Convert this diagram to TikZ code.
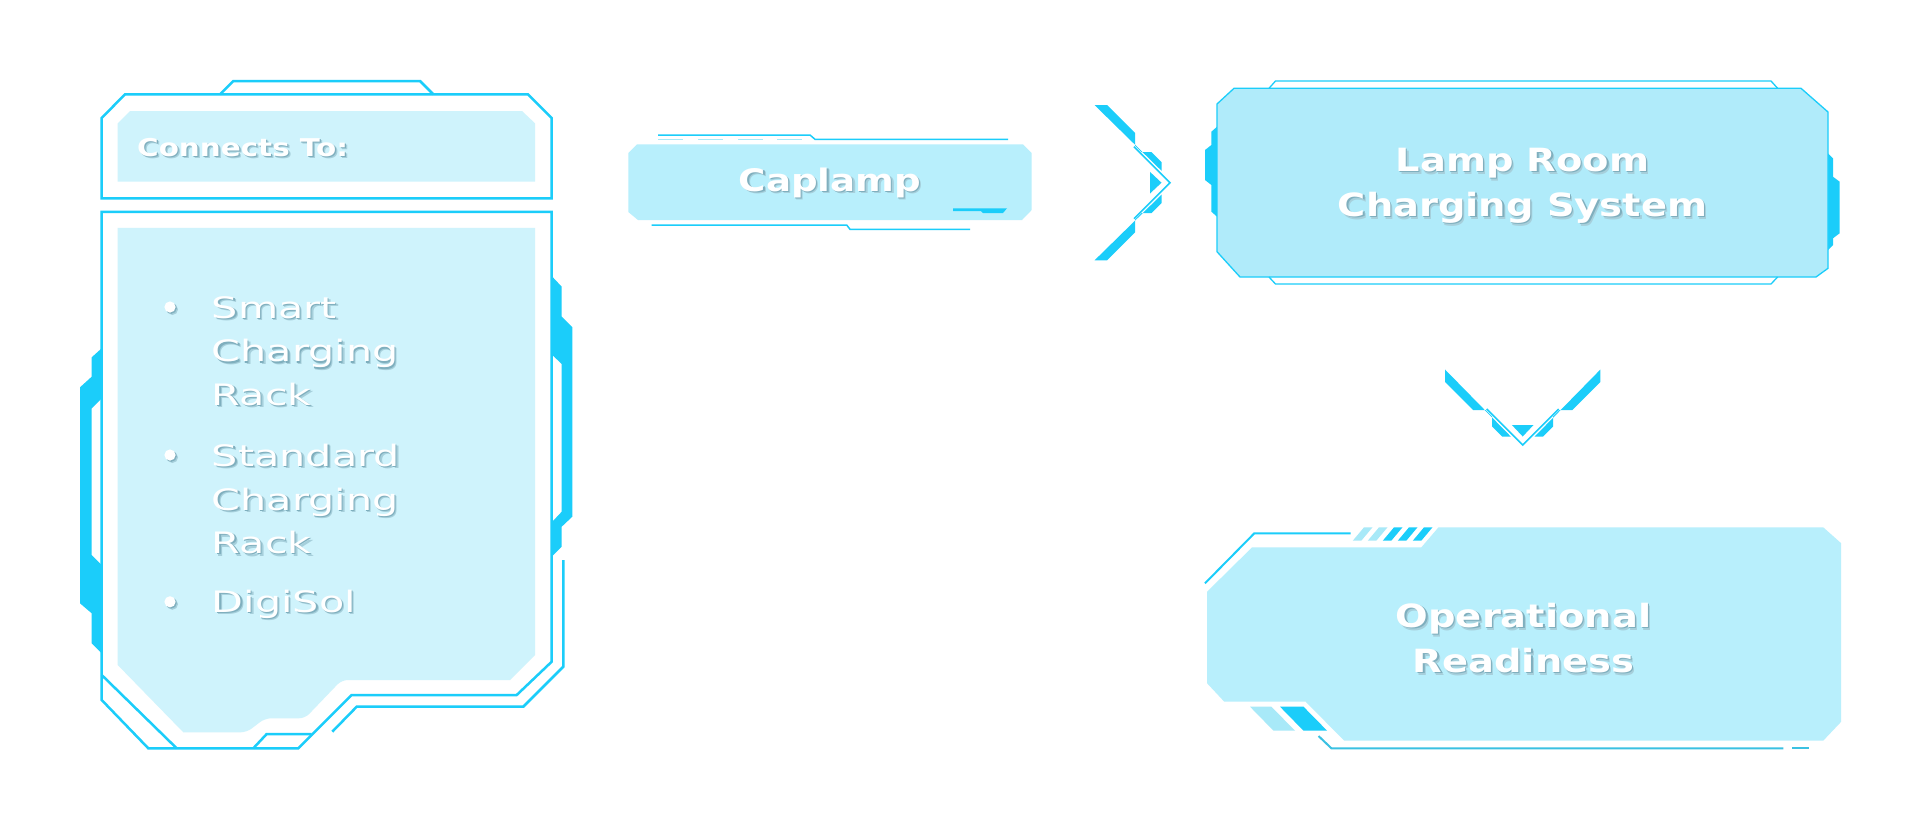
\documentclass[tikz,border=0pt]{standalone}
\usepackage{fontspec}
\newfontfamily\titlefont{DejaVu Sans}[FakeStretch=1.2]
\newfontfamily\itemfont{DejaVu Sans}[FakeStretch=1.4]
\definecolor{cy}{HTML}{1BCDFA}
\definecolor{cyline}{HTML}{3BC1E2}
\definecolor{cylite}{HTML}{A8E9F8}
\definecolor{fillA}{HTML}{CFF3FC}
\definecolor{fillB}{HTML}{B0EBFA}
\definecolor{fillC}{HTML}{B8EFFC}
\definecolor{shA}{HTML}{7FAFBE}
\definecolor{shB}{HTML}{A6CFDB}
\newcommand{\shd}[1]{\makebox[0pt][l]{\kern2.4pt\raisebox{-2.4pt}{\textcolor{shB}{#1}}}\makebox[0pt][l]{\kern1.2pt\raisebox{-1.2pt}{\textcolor{shA}{#1}}}#1}
\newcommand{\chevshape}{%
    \fill[cy] (-75.5,77.7)--(-63,77.7)--(-35,49.7)--(-35,37)--(-28.5,30.5)--(-18.5,30.5)--(-8.3,20.3)--(-8.3,11.8)--cycle;
    \fill[cy] (-75.5,-77.7)--(-63,-77.7)--(-35,-49.7)--(-35,-37)--(-28.5,-30.5)--(-18.5,-30.5)--(-8.3,-20.3)--(-8.3,-11.8)--cycle;
    \draw[cy, line width=1.5pt] (-36,36)--(0,0)--(-36,-36);
    \fill[cy] (-20,10.8)--(-8.5,0)--(-20,-10.8)--cycle;}
\tikzset{
  frame/.style={draw=cy, line width=2.5pt},
  thin/.style={draw=cy, line width=1.5pt},
  ttl/.style={text=white, inner sep=0pt, align=center, anchor=base},
  bigttl/.style={ttl, font=\titlefont\bfseries\fontsize{32}{45}\selectfont},
  itm/.style={text=white, inner sep=0pt, align=left, anchor=base west, font=\itemfont\fontsize{29.5}{43.6}\selectfont}
}
\begin{document}
\begin{tikzpicture}[x=1pt,y=-1pt]
\useasboundingbox (0,0) rectangle (1920,830);
\fill[white] (0,0) rectangle (1920,830);

% ---------- header box
\fill[fillA] (117.7,123.3)--(130,111)--(522,111)--(535,123.3)--(535,181.7)--(117.7,181.7)--cycle;
\draw[frame] (101.7,118)--(125,94.3)--(528,94.3)--(551.7,118)--(551.7,198.3)--(101.7,198.3)--cycle;
\draw[frame] (220,94.3)--(233.3,81)--(420,81)--(433.3,94.3);
\node[ttl, anchor=base west, font=\titlefont\bfseries\fontsize{24.5}{30}\selectfont] (hdr) at (137,156) {\shd{Connects To:}};

% ---------- main list box
\fill[cy, even odd rule] (101.7,348.3)--(91.7,357.3)--(91.7,376.7)--(80,387.3)--(80,603.3)--(91.7,613.3)--(91.7,643.3)--(101.7,653.3)--cycle
  (101.7,398.3)--(91.7,408.3)--(91.7,555)--(101.7,565)--cycle;
\fill[cy, even odd rule] (552.3,276.7)--(561.7,286.7)--(561.7,316.7)--(572.3,327.3)--(572.3,516.7)--(561.7,526.7)--(561.7,546.7)--(552.3,556)--cycle
  (552.3,355)--(561.7,364)--(561.7,511.7)--(552.3,521.7)--cycle;
\fill[fillA] (117.7,227.8)--(535,227.8)--(535,655)--(510,680)[rounded corners=6pt]--(341.7,680)--(305,718.3)--(265,718.3)--(246.7,732.3)[sharp corners]--(183.3,732.3)--(117.7,665)--cycle;
\draw[frame] (101.7,211.8)--(551.7,211.8)--(551.7,661.7)--(516.7,695)--(351.7,695)--(298.3,748.3)--(148.3,748.3)--(101.7,700)--cycle;
\draw[frame] (101.7,675)--(176.7,748.3);
\draw[frame] (253.3,748.3)--(266.7,734)--(311.7,734);
\draw[frame] (563.3,560)--(563.3,666.7)--(523.3,706.7)--(356.7,706.7)--(332.3,731.7);

\foreach \yy in {307,455,601.8}{
  \fill[shB] (172.4,\yy+2.4) circle (5.6);
  \fill[shA] (171.2,\yy+1.2) circle (5.6);
  \fill[white] (170,\yy) circle (5.6);
}
\node[itm] (it1) at (211.7,405.4) {\shd{Smart}\\\shd{Charging}\\\shd{Rack}};
\node[itm] (it2) at (211.7,553.6) {\shd{Standard}\\\shd{Charging}\\\shd{Rack}};
\node[itm] (it3) at (211.7,612.5) {\shd{DigiSol}};

% ---------- Caplamp
\fill[fillC] (628.3,153)--(637,144.3)--(1023,144.3)--(1031.7,153)--(1031.7,210)--(1022,220)--(638,220)--(628.3,212)--cycle;
\draw[thin] (658,135)--(810,135)--(815,139.3)--(1008,139.3);
\foreach \xa in {658,698,738,777}{\draw[cylite, line width=1.5pt] (\xa,139.3)--(\xa+25,139.3);}
\draw[thin] (651.7,225)--(846.7,225)--(850,229.3)--(970,229.3);
\fill[cy] (953,208.3)--(1007,208.3)--(1003,213)--(983,213)--(981,211.2)--(953,211.2)--cycle;
\node[ttl, font=\titlefont\bfseries\fontsize{31}{40}\selectfont] (cap) at (830,191) {\shd{Caplamp}};

% ---------- arrow right (Caplamp -> Lamp Room)
\begin{scope}[shift={(1170,182.7)}, x={(1pt,0pt)}, y={(0pt,1pt)}]
  \chevshape
\end{scope}

% ---------- Lamp Room box
\fill[cy] (1217,126.7)--(1211.4,131.7)--(1211.4,145)--(1205,150)--(1205,180)--(1211.4,185)--(1211.4,211.7)--(1217,216.7)--cycle;
\fill[cy] (1828,153.3)--(1833,158.3)--(1833,176.7)--(1839.6,181.7)--(1839.6,233.3)--(1833,238.3)--(1833,245)--(1828,250)--cycle;
\filldraw[fill=fillB, draw=cy, line width=1.3pt] (1217,104)--(1234,88.3)--(1801,88.3)--(1828,112)--(1828,268.3)--(1816,277)--(1240,277)--(1217,251.7)--cycle;
\draw[cy, line width=1.3pt] (1269,88.3)--(1275.5,81)--(1771,81)--(1777.6,88.3);
\draw[cy, line width=1.3pt] (1269,277)--(1275.5,284)--(1771,284)--(1777.6,277);
\node[bigttl] (lamp) at (1522.5,216.7) {\shd{Lamp Room}\\\shd{Charging System}};

% ---------- arrow down (Lamp Room -> Operational Readiness)
\begin{scope}[shift={(1522.7,445)}, x={(0pt,-1pt)}, y={(1pt,0pt)}]
  \chevshape
\end{scope}

% ---------- Operational Readiness
\fill[fillC] (1207.1,591.7)--(1252.1,547.3)--(1421.4,547.3)--(1438.5,527.3)--(1823.2,527.3)--(1841.2,543.3)--(1841.2,721.7)--(1823.2,740.7)--(1344.2,740.7)--(1305.7,701.7)--(1224.3,701.7)--(1207.1,683.3)--cycle;
\draw[cy, line width=2pt] (1205,583.3)--(1254.3,533.3)--(1350.7,533.3);
\foreach \i/\c in {0/cylite,1/cylite,2/cy,3/cy,4/cy}{
  \fill[\c] (1352.8+15*\i,540.7)--(1361.3+15*\i,540.7)--(1372.5+15*\i,527.3)--(1364+15*\i,527.3)--cycle;
}
\fill[cylite] (1250,706.7)--(1271.4,706.7)--(1295,730.7)--(1273.5,730.7)--cycle;
\fill[cy] (1280,706.7)--(1303.5,706.7)--(1327.1,730.7)--(1303.5,730.7)--cycle;
\draw[cyline, line width=2pt] (1318.5,736)--(1331.4,748.3)--(1783.4,748.3);
\draw[cyline, line width=2pt] (1792,748.3)--(1809,748.3);
\node[bigttl] (ops) at (1523.5,672.7) {\shd{Operational}\\\shd{Readiness}};
\end{tikzpicture}
\end{document}
